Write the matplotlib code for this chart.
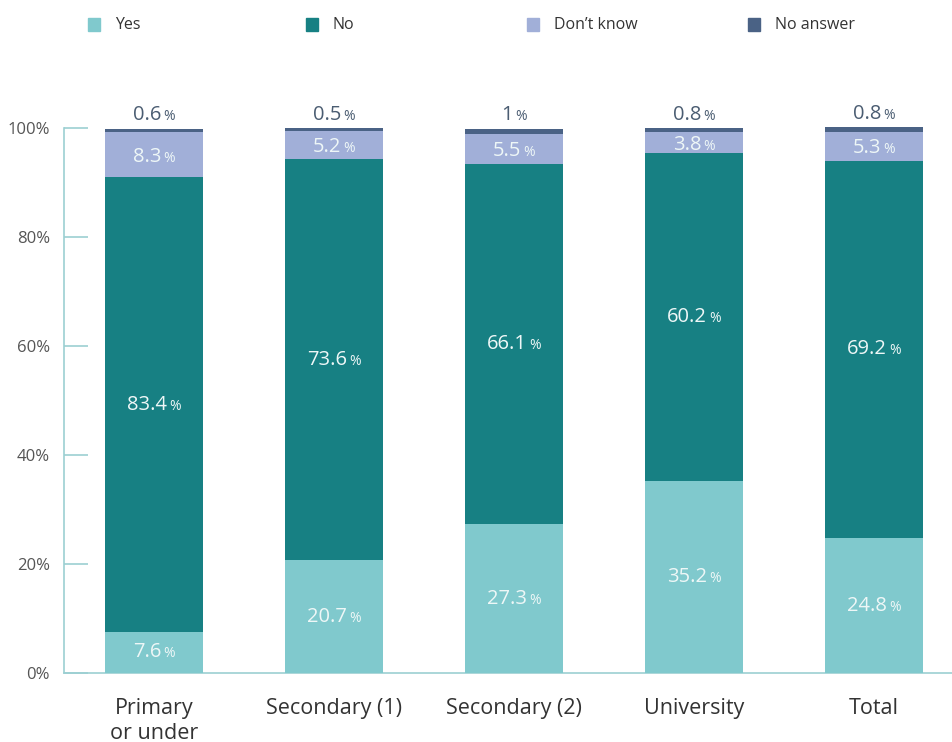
import numpy as np
import matplotlib
matplotlib.use('Agg')
import matplotlib.pyplot as plt
from matplotlib.patches import Rectangle

plt.rcParams['font.family'] = ['Open Sans', 'DejaVu Sans']

# Answers by education level (percent)
categories = ['Primary\nor under', 'Secondary (1)', 'Secondary (2)', 'University', 'Total']
yes = [7.6, 20.7, 27.3, 35.2, 24.8]
no = [83.4, 73.6, 66.1, 60.2, 69.2]
dont_know = [8.3, 5.2, 5.5, 3.8, 5.3]
no_answer = [0.6, 0.5, 1, 0.8, 0.8]

series_names = ['Yes', 'No', 'Don\u2019t know', 'No answer']
colors = ['#80c9cd', '#178083', '#a1afd8', '#4a6285']
axis_color = '#9ccfd2'

fig = plt.figure(figsize=(9.52, 7.42), dpi=100)
ax = fig.add_axes([64 / 952, 1 - 673 / 742, 1 - 64 / 952, (673 - 128) / 742])

x = np.arange(len(categories))
width = 0.545
bottom = np.zeros(len(categories))
stack = [yes, no, dont_know, no_answer]
for vals, col in zip(stack, colors):
    ax.bar(x, vals, width, bottom=bottom, color=col, clip_on=False, zorder=3)
    bottom = bottom + np.array(vals)

ax.set_xlim((64 - 154) / 180, (952 - 154) / 180)
ax.set_ylim(0, 100)

renderer = fig.canvas.get_renderer()
NUM_SIZE, PCT_SIZE, GAP = 14.5, 10, 2


def pct_label(xc, yc, v, color, va='center', dy=0):
    # number and a smaller '%' sign, centred together on (xc, yc)
    t1 = ax.text(xc, yc, '%g' % v, ha='left', va='baseline', fontsize=NUM_SIZE, color=color, zorder=5)
    t2 = ax.text(xc, yc, '%', ha='left', va='baseline', fontsize=PCT_SIZE, color=color, zorder=5)
    w1 = t1.get_window_extent(renderer).width
    w2 = t2.get_window_extent(renderer).width
    h = t1.get_window_extent(renderer).height
    total = w1 + GAP + w2
    if va == 'center':
        base = -0.26 * h + dy
    else:
        base = 0.22 * h + dy
    px, py = ax.transData.transform((xc, yc))
    inv = ax.transData.inverted()
    t1.set_position(inv.transform((px - total / 2, py + base)))
    t2.set_position(inv.transform((px - total / 2 + w1 + GAP, py + base)))


label_color = '#eef7f7'
for i in range(len(categories)):
    pct_label(x[i], yes[i] / 2, yes[i], label_color)
    pct_label(x[i], yes[i] + no[i] / 2, no[i], label_color)
    pct_label(x[i], yes[i] + no[i] + dont_know[i] / 2, dont_know[i], label_color, dy=-2)
    pct_label(x[i], bottom[i], no_answer[i], '#4b5d72', va='bottom', dy=4)

for s in ['top', 'right']:
    ax.spines[s].set_visible(False)
ax.spines['left'].set_color(axis_color)
ax.spines['bottom'].set_color(axis_color)
ax.spines['left'].set_linewidth(1.2)
ax.spines['bottom'].set_linewidth(1.2)

ax.set_yticks([0, 20, 40, 60, 80, 100])
ax.set_yticklabels(['0%', '20%', '40%', '60%', '80%', '100%'])
ax.tick_params(axis='y', direction='in', length=17, width=1.2, color=axis_color,
               labelsize=12, labelcolor='#555555', pad=10)
ax.set_xticks(x)
ax.set_xticklabels(categories, fontsize=15.5, color='#333333', linespacing=1.22)
ax.tick_params(axis='x', length=0, pad=18)

# Legend along the top
leg_x = [88, 306, 527, 748]
for name, col, lx in zip(series_names, colors, leg_x):
    fig.patches.append(Rectangle((lx / 952, 1 - 31 / 742), 12 / 952, 13 / 742,
                                 transform=fig.transFigure, color=col))
    fig.text((lx + 27) / 952, 1 - 25 / 742, name, fontsize=11.5, color='#333333',
             va='center', ha='left')

fig.savefig('out.png', dpi=100, facecolor='white')
